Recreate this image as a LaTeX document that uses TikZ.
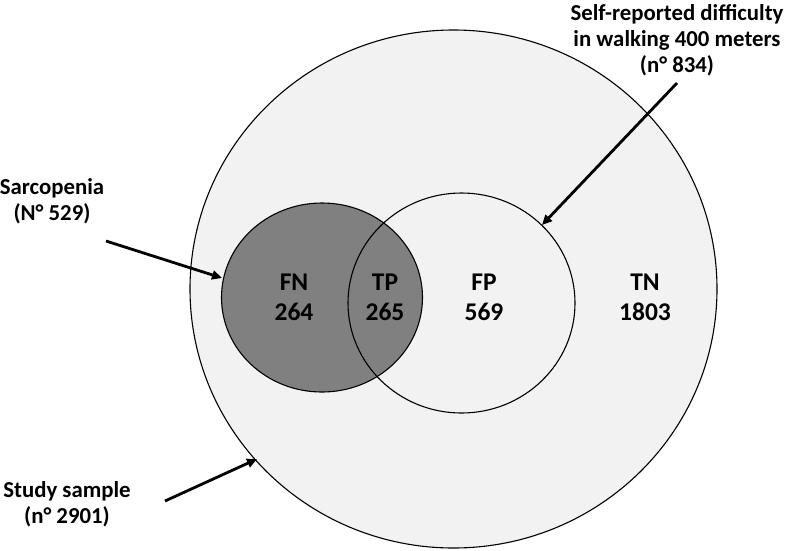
\documentclass[tikz,border=0pt]{standalone}
\usepackage{fontspec}
\setmainfont{Carlito}
\usetikzlibrary{arrows.meta,shapes.geometric}
\definecolor{bgfill}{HTML}{F2F2F2}
\definecolor{sarcfill}{HTML}{808080}
\begin{document}
\begin{tikzpicture}[x=1pt,y=-1pt,
  setshape/.style={ellipse, draw=black, line width=1.1pt, inner sep=0pt, outer sep=0pt},
  lbl/.style={align=center, inner sep=0pt, font=\fontsize{22.8}{26}\selectfont\bfseries},
  cnt/.style={align=center, inner sep=0pt, font=\fontsize{25.5}{29.5}\selectfont\bfseries},
  pointer/.style={line width=2.8pt, -{Triangle[length=10pt,width=9pt]}}]
\useasboundingbox (0,0) rectangle (786,550);
% sets
\node[setshape, fill=bgfill, minimum width=527pt, minimum height=518pt] (sample) at (453.5,289) {};
\node[setshape, fill=sarcfill, minimum width=201pt, minimum height=189pt] (sarc) at (322,297.5) {};
\node[setshape, minimum width=227pt, minimum height=220pt] (walk) at (461.5,303) {};
% counts
\node[cnt] (fn) at (294,297.5) {FN\\264};
\node[cnt] (tp) at (385,297.5) {TP\\265};
\node[cnt] (fp) at (484,297.5) {FP\\569};
\node[cnt] (tn) at (645,297.5) {TN\\1803};
% labels
\node[lbl] (sarclbl) at (52,201) {Sarcopenia\\(N° 529)};
\node[lbl] (walklbl) at (677,40) {Self-reported difficulty\\in walking 400 meters\\(n° 834)};
\node[lbl] (samplelbl) at (67,504) {Study sample\\(n° 2901)};
% arrow ends
\coordinate (sarcfrom) at (106,241);
\coordinate (sarcto) at (222,278);
\coordinate (walkfrom) at (677,83);
\coordinate (walkto) at (542,225);
\coordinate (samplefrom) at (165,501);
\coordinate (sampleto) at (257,459);
\draw[pointer] (sarcfrom) -- (sarcto);
\draw[pointer] (walkfrom) -- (walkto);
\draw[pointer] (samplefrom) -- (sampleto);
\end{tikzpicture}
\end{document}
